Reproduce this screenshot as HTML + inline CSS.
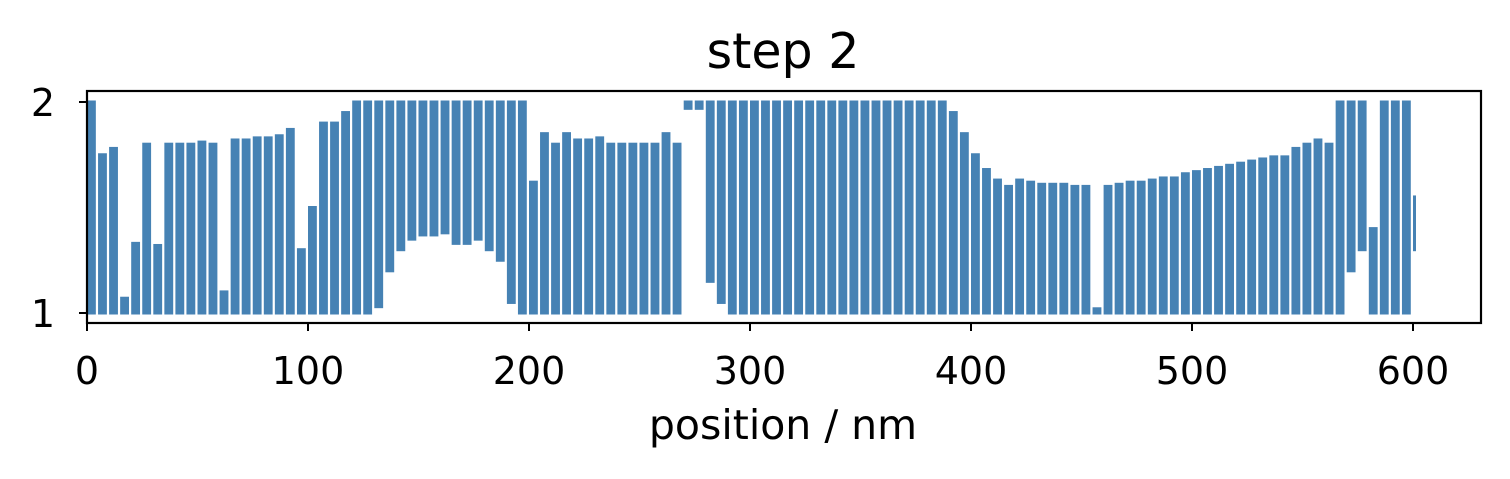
<!DOCTYPE html>
<html><head><meta charset="utf-8"><style>
body{margin:0;background:#fff;}
svg{display:block;font-family:"DejaVu Sans","Liberation Sans",sans-serif;}
</style></head><body>
<svg id="chart" width="1510" height="479">
<text x="783" y="68" font-size="49" text-anchor="middle">step 2</text>
<g id="marks"></g>
<rect x="87" y="91" width="1394" height="232" fill="none" stroke="#000" stroke-width="2.2"/>
<g id="axes"></g>
<text x="783" y="439" font-size="41" text-anchor="middle">position / nm</text>
</svg>
<script>
const binStart=[0,5,10,15,20,25,30,35,40,45,50,55,60,65,70,75,80,85,90,95,100,105,110,115,120,125,130,135,140,145,150,155,160,165,170,175,180,185,190,195,200,205,210,215,220,225,230,235,240,245,250,255,260,265,270,275,280,285,290,295,300,305,310,315,320,325,330,335,340,345,350,355,360,365,370,375,380,385,390,395,400,405,410,415,420,425,430,435,440,445,450,455,460,465,470,475,480,485,490,495,500,505,510,515,520,525,530,535,540,545,550,555,560,565,570,575,580,585,590,595,600];
const hiVals=[2.0,1.75,1.78,1.07,1.33,1.8,1.32,1.8,1.8,1.8,1.81,1.8,1.1,1.82,1.82,1.83,1.83,1.84,1.87,1.3,1.5,1.9,1.9,1.95,2,2,2,2,2,2,2,2,2,2,2,2,2,2,2,2,1.62,1.85,1.8,1.85,1.82,1.82,1.83,1.8,1.8,1.8,1.8,1.8,1.85,1.8,2,2,2,2,2,2,2,2,2,2,2,2,2,2,2,2,2,2,2,2,2,2,2,2,1.95,1.85,1.75,1.68,1.63,1.6,1.63,1.62,1.61,1.61,1.61,1.6,1.6,1.02,1.6,1.61,1.62,1.62,1.63,1.64,1.64,1.66,1.67,1.68,1.69,1.7,1.71,1.72,1.73,1.74,1.74,1.78,1.8,1.82,1.8,2,2,2,1.4,2,2,2,1.55];
const loVals=[1,1,1,1,1,1,1,1,1,1,1,1,1,1,1,1,1,1,1,1,1,1,1,1,1,1,1.03,1.2,1.3,1.35,1.37,1.37,1.38,1.33,1.33,1.35,1.3,1.25,1.05,1,1,1,1,1,1,1,1,1,1,1,1,1,1,1,1.97,1.97,1.15,1.05,1,1,1,1,1,1,1,1,1,1,1,1,1,1,1,1,1,1,1,1,1,1,1,1,1,1,1,1,1,1,1,1,1,1,1,1,1,1,1,1,1,1,1,1,1,1,1,1,1,1,1,1,1,1,1,1,1.2,1.3,1,1,1,1,1.3];
const xTicks=[0,100,200,300,400,500,600];
const yTicks=[1,2];
const X=v=>87+v*2.21;
const Y=v=>313-(v-1)*211;
const NS="http://www.w3.org/2000/svg";
const marks=document.getElementById('marks');
binStart.forEach((s,i)=>{
  const w=(i===binStart.length-1)?1.5:5;
  const r=document.createElementNS(NS,'rect');
  r.setAttribute('x',X(s));
  r.setAttribute('width',Math.max(3,(X(s+w)-X(s))*0.8));
  r.setAttribute('y',Y(hiVals[i])-1.5);
  r.setAttribute('height',Y(loVals[i])-Y(hiVals[i])+3);
  r.setAttribute('fill','#4682b4');
  
  
  marks.appendChild(r);
});
const axes=document.getElementById('axes');
xTicks.forEach(t=>{
  const l=document.createElementNS(NS,'line');
  l.setAttribute('x1',X(t));l.setAttribute('x2',X(t));l.setAttribute('y1',323);l.setAttribute('y2',331);
  l.setAttribute('stroke','#000');l.setAttribute('stroke-width','2');
  
  
  axes.appendChild(l);
  const tx=document.createElementNS(NS,'text');
  tx.setAttribute('x',X(t));tx.setAttribute('y',384);tx.setAttribute('font-size','38');tx.setAttribute('text-anchor','middle');
  tx.textContent=t;
  
  
  axes.appendChild(tx);
});
yTicks.forEach(t=>{
  const l=document.createElementNS(NS,'line');
  l.setAttribute('x1',79);l.setAttribute('x2',87);l.setAttribute('y1',Y(t));l.setAttribute('y2',Y(t));
  l.setAttribute('stroke','#000');l.setAttribute('stroke-width','2');
  
  
  axes.appendChild(l);
  const tx=document.createElementNS(NS,'text');
  tx.setAttribute('x',55);tx.setAttribute('y',Y(t)+14);tx.setAttribute('font-size','38');tx.setAttribute('text-anchor','end');
  tx.textContent=t;
  
  
  axes.appendChild(tx);
});
</script>
</body></html>
